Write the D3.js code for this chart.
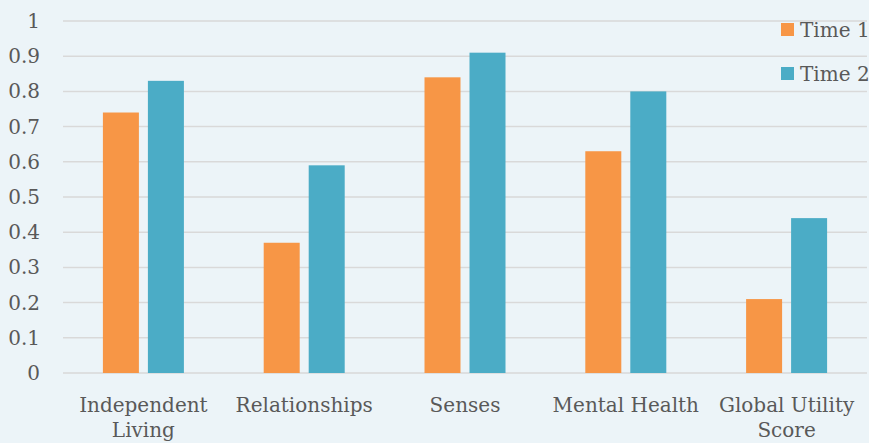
<!DOCTYPE html>
<html><head><meta charset="utf-8">
<script src="https://cdn.jsdelivr.net/npm/d3@7"></script>
<style>body{margin:0;background:#ECF4F8;}svg{display:block;}</style>
</head><body>
<svg id="c" width="869" height="443"></svg>
<script>
const categories = [["Independent","Living"],["Relationships"],["Senses"],["Mental Health"],["Global Utility","Score"]];
const seriesNames = ["Time 1","Time 2"];
const time1 = [0.74,0.37,0.84,0.63,0.21];
const time2 = [0.83,0.59,0.91,0.80,0.44];
const yTicks = [0,0.1,0.2,0.3,0.4,0.5,0.6,0.7,0.8,0.9,1];
const colors = ["#F79646","#4BACC6"];

(function(){
const svg = d3.select("#c");
const W=869,H=443;
svg.append("rect").attr("width",W).attr("height",H).attr("fill","#ECF4F8");
const mLeft=63,mRight=867,mTop=21,mBottom=373;
const font="DejaVu Serif, serif";
const fs=20;
const x = d3.scaleBand().domain(d3.range(categories.length)).range([mLeft,mRight]);
const y = d3.scaleLinear().domain([0,1]).range([mBottom,mTop]);

const g = svg.append("g");
g.selectAll("line.grid").data(yTicks).enter().append("line")
 .attr("x1",mLeft).attr("x2",mRight).attr("y1",d=>y(d)).attr("y2",d=>y(d))
 .attr("stroke","#D9D9D9").attr("stroke-width",1.5);
g.selectAll("text.yt").data(yTicks).enter().append("text")
 .attr("x",40).attr("y",d=>y(d)).attr("dy","0.35em").attr("text-anchor","end")
 .attr("font-family",font).attr("font-size",fs).attr("fill","#595959")
 .text(d=>d3.format("~g")(d));

const bw=36, gap=9;
const data=[time1,time2];
data.forEach((vals,si)=>{
  g.selectAll("rect.s"+si).data(vals).enter().append("rect")
   .attr("x",(d,i)=>x.bandwidth()/2+x(i)-bw-gap/2+si*(bw+gap))
   .attr("y",d=>y(d)).attr("width",bw).attr("height",d=>y(0)-y(d))
   .attr("fill",colors[si]);
});

categories.forEach((lines,i)=>{
  const t=g.append("text").attr("text-anchor","middle")
    .attr("font-family",font).attr("font-size",fs).attr("fill","#595959");
  lines.forEach((l,j)=>t.append("tspan").attr("x",x(i)+x.bandwidth()/2).attr("y",412+j*25).text(l));
});

seriesNames.forEach((n,i)=>{
  g.append("rect").attr("x",781).attr("y",23+i*44).attr("width",13).attr("height",13).attr("fill",colors[i]);
  g.append("text").attr("x",800).attr("y",29.5+i*44).attr("dy","0.35em")
   .attr("font-family",font).attr("font-size",fs).attr("fill","#595959").text(n);
});
})();
</script>
</body></html>
